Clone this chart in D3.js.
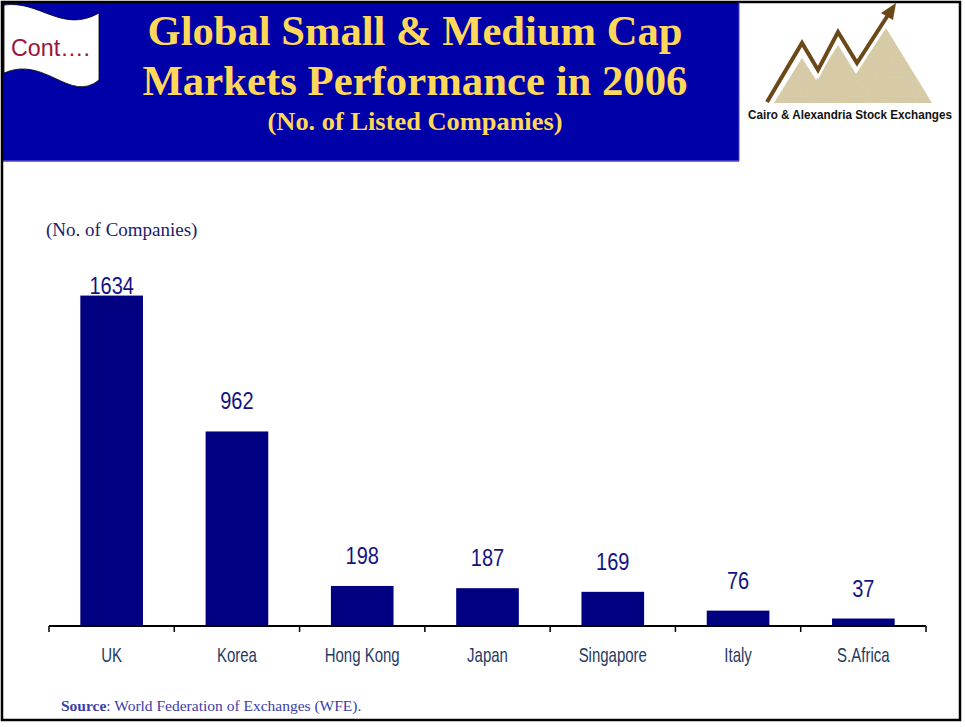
<!DOCTYPE html>
<html>
<head>
<meta charset="utf-8">
<script src="https://cdn.jsdelivr.net/npm/d3@7"></script>
<style>
  html, body { margin: 0; padding: 0; background: #fff; }
  svg { display: block; }
</style>
</head>
<body>
<svg id="chart" width="965" height="727"></svg>
<script>
// Listed small & medium cap companies by market, 2006
const countries = ["UK", "Korea", "Hong Kong", "Japan", "Singapore", "Italy", "S.Africa"];
const companies = [1634, 962, 198, 187, 169, 76, 37];

const titleLines = ["Global Small & Medium Cap", "Markets Performance in 2006"];
const subtitle = "(No. of Listed Companies)";
const unitLabel = "(No. of Companies)";
const sourceName = "World Federation of Exchanges (WFE).";
const logoCaption = "Cairo & Alexandria Stock Exchanges";

const svg = d3.select("#chart");

// sandy grain for the logo mountains
const defs = svg.append("defs");
const grain = defs.append("filter").attr("id", "grain").attr("x", 0).attr("y", 0)
  .attr("width", 1).attr("height", 1);
grain.append("feTurbulence").attr("type", "fractalNoise").attr("baseFrequency", 0.9)
  .attr("numOctaves", 2).attr("seed", 4).attr("result", "noise");
grain.append("feColorMatrix").attr("in", "noise").attr("type", "matrix")
  .attr("values", "0 0 0 0 0.55  0 0 0 0 0.47  0 0 0 0 0.30  0 0 0 0.45 0")
  .attr("result", "tint");
grain.append("feComposite").attr("in", "tint").attr("in2", "SourceGraphic")
  .attr("operator", "in").attr("result", "speck");
grain.append("feMerge").selectAll("feMergeNode").data(["SourceGraphic", "speck"]).join("feMergeNode")
  .attr("in", d => d);

// ---- header band ----
svg.append("rect").attr("x", 3).attr("y", 3).attr("width", 736).attr("height", 158)
  .attr("fill", "#0000a8");
svg.append("line").attr("x1", 3).attr("x2", 739).attr("y1", 161).attr("y2", 161)
  .attr("stroke", "#4848c8").attr("stroke-width", 1.5);

// wavy "Cont...." flag
svg.append("path")
  .attr("d", "M4,5 C40,0 62,34 99,13 L99,80 C70,104 45,55 4,73 Z")
  .attr("fill", "#fff").attr("stroke", "#000").attr("stroke-width", 0.8);
svg.append("text").attr("x", 11).attr("y", 56)
  .attr("font-family", "Liberation Sans, Arial, sans-serif").attr("font-size", 23)
  .attr("textLength", 79).attr("lengthAdjust", "spacingAndGlyphs")
  .attr("fill", "#a0103a").text("Cont….");

const title = svg.append("g").attr("font-family", "Liberation Serif, Times New Roman, serif")
  .attr("font-weight", "bold").attr("fill", "#ffd85a").attr("text-anchor", "middle");
title.append("text").attr("x", 415).attr("y", 45).attr("font-size", 43)
  .attr("textLength", 535).attr("lengthAdjust", "spacingAndGlyphs").text(titleLines[0]);
title.append("text").attr("x", 415).attr("y", 95).attr("font-size", 43)
  .attr("textLength", 545).attr("lengthAdjust", "spacingAndGlyphs").text(titleLines[1]);
title.append("text").attr("x", 415).attr("y", 130).attr("font-size", 25)
  .attr("textLength", 295).attr("lengthAdjust", "spacingAndGlyphs").text(subtitle);

// ---- logo ----
const logo = svg.append("g").attr("transform", "translate(740,0)");
logo.append("path")
  .attr("d", "M34,103 L62,58 L76,80 L98,45 L116,74 L146,28 L192,103 Z")
  .attr("fill", "#ddd0ac").attr("filter", "url(#grain)");
const arrowPts = "M27,102 L62,43 L78,70 L98,32 L117,63 L150,12";
logo.append("path").attr("d", arrowPts).attr("fill", "none")
  .attr("stroke", "#fff").attr("stroke-width", 9).attr("stroke-linejoin", "miter");
logo.append("path").attr("d", arrowPts).attr("fill", "none")
  .attr("stroke", "#6b4818").attr("stroke-width", 4).attr("stroke-linejoin", "miter");
logo.append("path").attr("d", "M156,3 L141,13 L153,20 Z").attr("fill", "#6b4818");
logo.append("text").attr("x", 110).attr("y", 119).attr("text-anchor", "middle")
  .attr("font-family", "Liberation Sans, Arial, sans-serif")
  .attr("font-weight", "bold").attr("font-size", 12)
  .attr("textLength", 204).attr("lengthAdjust", "spacingAndGlyphs")
  .attr("fill", "#111").text(logoCaption);

// ---- bar chart ----
const plot = { left: 49, right: 926, top: 262, bottom: 626 };

const x = d3.scaleBand().domain(countries).range([plot.left, plot.right])
  .paddingInner(0.5).paddingOuter(0.25);
const y = d3.scaleLinear().domain([0, 1800]).range([plot.bottom, plot.top]);

svg.append("text").attr("x", 46).attr("y", 236)
  .attr("font-family", "Liberation Serif, Times New Roman, serif").attr("font-size", 19)
  .attr("fill", "#1c1c6c").text(unitLabel);

svg.append("g").selectAll("rect").data(countries).join("rect")
  .attr("x", d => x(d)).attr("width", x.bandwidth())
  .attr("y", (d, i) => y(companies[i]))
  .attr("height", (d, i) => plot.bottom - y(companies[i]))
  .attr("fill", "#000080");

// narrow sans labels: horizontally compressed around their anchor point
const narrow = (sel, sx) => sel.attr("transform", function () {
  const tx = +this.getAttribute("x"), ty = +this.getAttribute("y");
  return `translate(${tx},${ty}) scale(${sx},1) translate(${-tx},${-ty})`;
});

// value labels sit above each bar, kept inside the plot area
svg.append("g").selectAll("text").data(countries).join("text")
  .attr("x", d => x(d) + x.bandwidth() / 2)
  .attr("y", (d, i) => Math.max(y(companies[i]) - 22, plot.top + 32))
  .attr("text-anchor", "middle")
  .attr("font-family", "Liberation Sans, Arial, sans-serif")
  .attr("font-size", 23).attr("fill", "#141480")
  .text((d, i) => companies[i])
  .call(narrow, 0.87);

// category axis with boundary ticks
const axis = svg.append("g").attr("transform", `translate(0,${plot.bottom})`);
axis.append("line").attr("x1", plot.left).attr("x2", plot.right)
  .attr("stroke", "#000").attr("stroke-width", 2);
const bounds = d3.range(countries.length + 1).map(i => plot.left + i * x.step());
axis.selectAll("line.tick").data(bounds).join("line").attr("class", "tick")
  .attr("x1", d => d).attr("x2", d => d).attr("y1", 0).attr("y2", 6)
  .attr("stroke", "#000").attr("stroke-width", 1.5);
axis.selectAll("text").data(countries).join("text")
  .attr("x", d => x(d) + x.bandwidth() / 2).attr("y", 36)
  .attr("text-anchor", "middle")
  .attr("font-family", "Liberation Sans, Arial, sans-serif")
  .attr("font-size", 20).attr("fill", "#1f3a64")
  .text(d => d)
  .call(narrow, 0.75);

// source note
const src = svg.append("text").attr("x", 61).attr("y", 711)
  .attr("font-family", "Liberation Serif, Times New Roman, serif").attr("font-size", 15.5)
  .attr("fill", "#3c3ca8");
src.append("tspan").attr("font-weight", "bold").text("Source");
src.append("tspan").text(": " + sourceName);

// slide frame
svg.append("rect").attr("x", 2).attr("y", 2).attr("width", 958).attr("height", 718)
  .attr("fill", "none").attr("stroke", "#000").attr("stroke-width", 2.5);
svg.append("line").attr("x1", 739).attr("x2", 739).attr("y1", 2).attr("y2", 161)
  .attr("stroke", "#4848c8").attr("stroke-width", 1);
</script>
</body>
</html>
